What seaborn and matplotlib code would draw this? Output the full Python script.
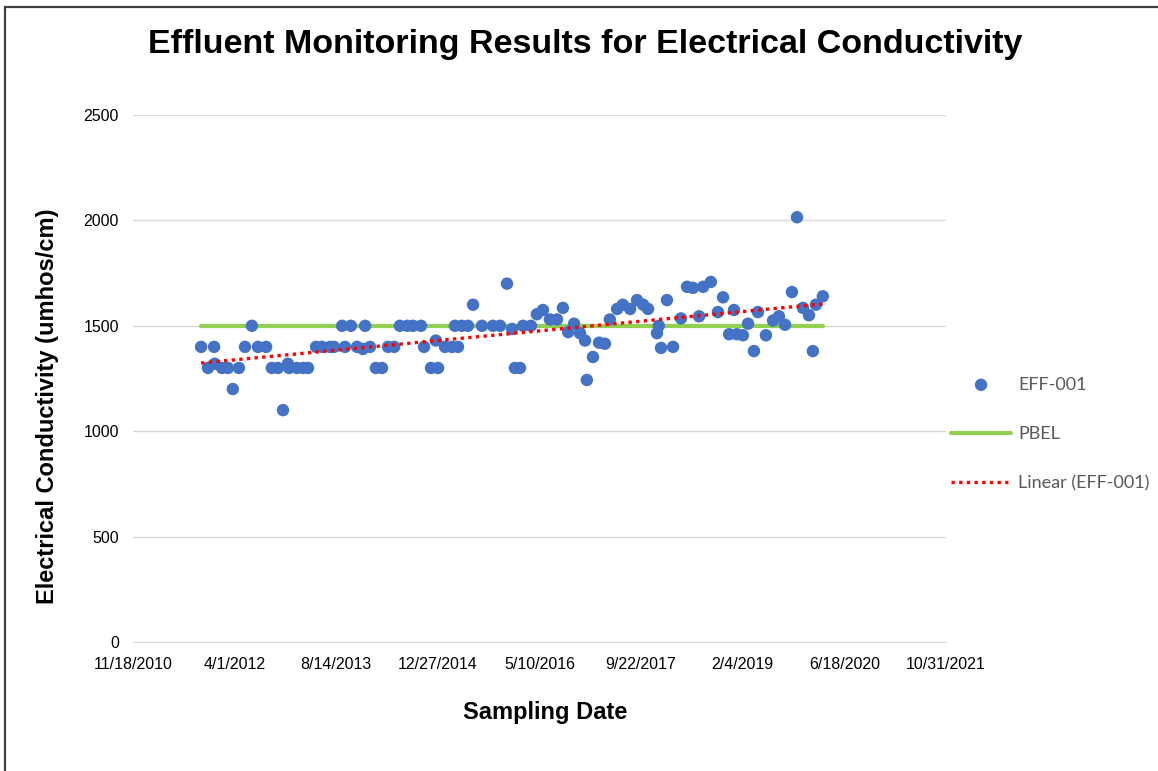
"""
Effluent monitoring — electrical conductivity at EFF-001 vs. PBEL.
Odtworzenie wykresu z Excela (oś X w numerach seryjnych dat Excela).
"""

from datetime import datetime, timedelta

import pandas as pd
import matplotlib
matplotlib.use('Agg')
import matplotlib.pyplot as plt
from matplotlib.ticker import FuncFormatter, MultipleLocator
from matplotlib.patches import Rectangle
import seaborn as sns

# numery seryjne dat Excela (dni od 1899-12-30) i wyniki EFF-001 [umhos/cm]
sample_serial = [
    40835, 40869, 40899, 40902, 40938, 40967, 40991, 41021, 41051, 41085,
    41115, 41155, 41183, 41213, 41238, 41262, 41268, 41307, 41337, 41361,
    41401, 41430, 41469, 41489, 41529, 41543, 41572, 41602, 41631, 41642,
    41666, 41695, 41725, 41755, 41785, 41813, 41849, 41877, 41917, 41932,
    41966, 41990, 42001, 42035, 42069, 42084, 42099, 42118, 42148, 42173,
    42217, 42271, 42306, 42340, 42365, 42379, 42404, 42419, 42458, 42487,
    42517, 42551, 42586, 42615, 42641, 42670, 42699, 42724, 42733, 42763,
    42793, 42822, 42846, 42882, 42910, 42946, 42980, 43010, 43034, 43078,
    43087, 43098, 43127, 43157, 43196, 43226, 43255, 43285, 43305, 43343,
    43378, 43403, 43433, 43457, 43471, 43501, 43526, 43555, 43575, 43614,
    43649, 43678, 43708, 43742, 43767, 43796, 43826, 43845, 43860, 43894,
]
eff_001 = [
    1400, 1300, 1400, 1320, 1300, 1300, 1200, 1300, 1400, 1500,
    1400, 1400, 1300, 1300, 1100, 1320, 1300, 1300, 1300, 1300,
    1400, 1400, 1400, 1400, 1500, 1400, 1500, 1400, 1390, 1500,
    1400, 1300, 1300, 1400, 1400, 1500, 1500, 1500, 1500, 1400,
    1300, 1430, 1300, 1400, 1400, 1500, 1400, 1500, 1500, 1600,
    1500, 1500, 1500, 1700, 1485, 1300, 1300, 1500, 1500, 1555,
    1575, 1530, 1530, 1585, 1470, 1510, 1465, 1430, 1243, 1352,
    1420, 1415, 1530, 1580, 1600, 1580, 1622, 1600, 1580, 1465,
    1500, 1395, 1622, 1400, 1535, 1685, 1680, 1545, 1685, 1708,
    1565, 1635, 1460, 1575, 1460, 1455, 1510, 1380, 1565, 1455,
    1525, 1545, 1505, 1660, 2015, 1585, 1550, 1380, 1600, 1640,
]
pbel_limit = 1500

df = pd.DataFrame({'serial': sample_serial, 'EFF-001': eff_001})
pbel = pd.DataFrame({'serial': [sample_serial[0], sample_serial[-1]],
                     'PBEL': [pbel_limit, pbel_limit]})

EXCEL_EPOCH = datetime(1899, 12, 30)


def excel_date(x, pos=None):
    d = EXCEL_EPOCH + timedelta(days=float(x))
    return f'{d.month}/{d.day}/{d.year}'


sns.set_style('white')
plt.rcParams['font.family'] = ['Liberation Sans', 'DejaVu Sans']
plt.rcParams['text.color'] = 'black'

fig = plt.figure(figsize=(11.58, 7.71), dpi=100)
ax = fig.add_axes([133 / 1158, 1 - 642 / 771, (946 - 133) / 1158, (642 - 115) / 771])

sns.lineplot(data=pbel, x='serial', y='PBEL', ax=ax, color='#92D050',
             linewidth=3.0, label='PBEL', zorder=2)
sns.scatterplot(data=df, x='serial', y='EFF-001', ax=ax, color='#4472C4',
                s=80, edgecolor='none', label='EFF-001', zorder=3)
sns.regplot(data=df, x='serial', y='EFF-001', ax=ax, scatter=False, ci=None,
            truncate=True, label='Linear (EFF-001)',
            line_kws=dict(color='#FF0000', linewidth=2.4, linestyle=(0, (1, 1.3)), zorder=4))

ax.set_xlim(40500, 44500)
ax.set_ylim(0, 2500)
ax.xaxis.set_major_locator(MultipleLocator(500))
ax.xaxis.set_major_formatter(FuncFormatter(excel_date))
ax.yaxis.set_major_locator(MultipleLocator(500))
ax.grid(axis='y', color='#D9D9D9', linewidth=1.0)
ax.set_axisbelow(True)
for side in ['left', 'right', 'top']:
    ax.spines[side].set_visible(False)
ax.spines['bottom'].set_color('#D9D9D9')
ax.tick_params(axis='both', length=0, labelsize=11.5, colors='black')
ax.tick_params(axis='x', pad=11)
ax.tick_params(axis='y', pad=10)

ax.set_xlabel('')
ax.set_ylabel('')
fig.text(545 / 1158, 1 - 712 / 771, 'Sampling Date', ha='center', va='center',
         fontsize=17, fontweight='bold')
fig.text(48 / 1158, 1 - 406 / 771, 'Electrical Conductivity (umhos/cm)', ha='center',
         va='center', rotation=90, fontsize=17, fontweight='bold')
fig.text(585 / 1158, 1 - 45 / 771, 'Effluent Monitoring Results for Electrical Conductivity',
         ha='center', va='center', fontsize=24.5, fontweight='bold')

# legenda: kolejność jak w Excelu
handles, labels = ax.get_legend_handles_labels()
order = [labels.index(n) for n in ['EFF-001', 'PBEL', 'Linear (EFF-001)']]
leg = ax.legend([handles[i] for i in order], [labels[i] for i in order],
                loc='center left', bbox_to_anchor=(944 / 1158, 1 - 434 / 771),
                bbox_transform=fig.transFigure, frameon=False, handlelength=3.3,
                handletextpad=0.4, labelspacing=1.85, borderaxespad=0,
                prop={'family': ['Lato', 'DejaVu Sans'], 'size': 13})
for t in leg.get_texts():
    t.set_color('#595959')

# ramka obszaru wykresu (jak w Excelu)
fig.patches.append(Rectangle((5 / 1158, -0.1), 1.2, 1 - 7 / 771 + 0.1,
                             transform=fig.transFigure, fill=False,
                             edgecolor='#404040', linewidth=1.6))

fig.savefig('out.png', dpi=100)
